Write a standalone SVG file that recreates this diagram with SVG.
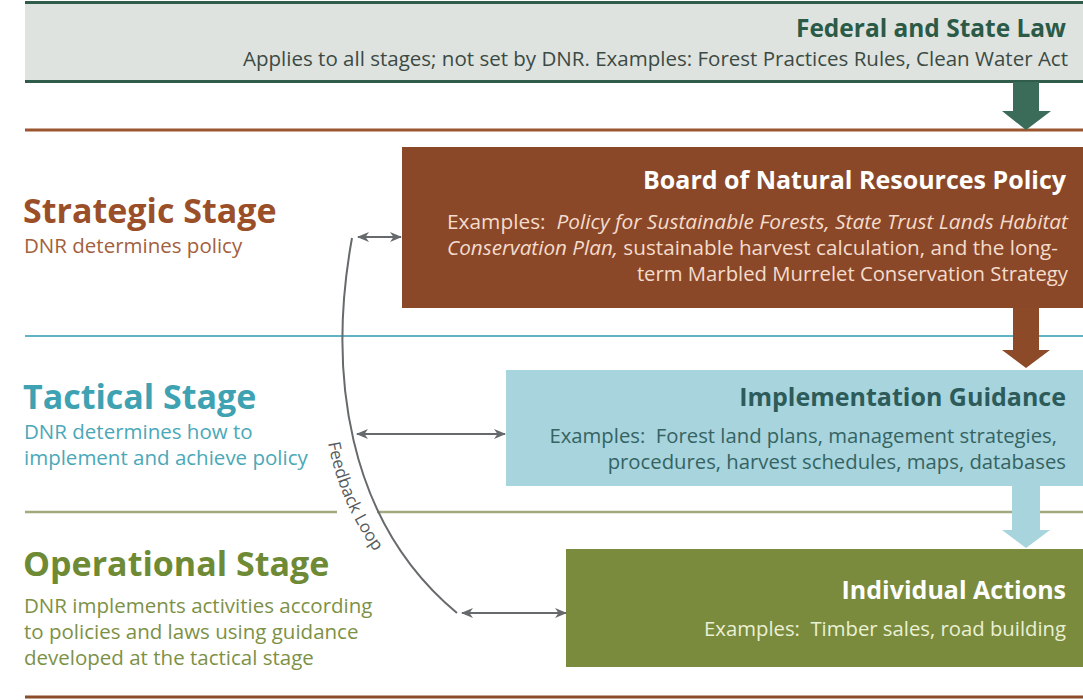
<svg xmlns="http://www.w3.org/2000/svg" width="1083" height="700" viewBox="0 0 1083 700">
<style>
  text { font-family: "Open Sans", "Noto Sans", "DejaVu Sans", sans-serif; white-space: pre; }
  .title { font-weight: bold; font-size: 25px; text-anchor: end; }
  .body { font-size: 20.3px; text-anchor: end; }
  .stage { font-weight: bold; font-size: 34px; }
  .sdesc { font-size: 20.5px; }
  .conn { fill: none; stroke: #666a6c; stroke-width: 2; }
</style>
<defs>
  <marker id="ah" viewBox="0 0 12 10" refX="11" refY="5" markerWidth="12" markerHeight="10" markerUnits="userSpaceOnUse" orient="auto-start-reverse">
    <path d="M0,0 L12,5 L0,10 L3.5,5 z" fill="#666a6c"/>
  </marker>
</defs>
<rect width="1083" height="700" fill="#ffffff"/>

<g id="bands">
  <line x1="25" y1="130" x2="1083" y2="130" stroke="#9b5630" stroke-width="3"/>
  <line x1="25" y1="336" x2="1083" y2="336" stroke="#5fb3c2" stroke-width="2"/>
  <line x1="25" y1="512" x2="337" y2="512" stroke="#a3a97f" stroke-width="2.5"/>
  <line x1="377" y1="512" x2="1083" y2="512" stroke="#a3a97f" stroke-width="2.5"/>
  <line x1="25" y1="697" x2="1083" y2="697" stroke="#8a4d2c" stroke-width="3"/>
</g>

<g id="federal">
  <rect x="25" y="2" width="1058" height="80" fill="#dee3e0"/>
  <line x1="25" y1="2.5" x2="1083" y2="2.5" stroke="#2f5c4b" stroke-width="3"/>
  <line x1="25" y1="81.5" x2="1083" y2="81.5" stroke="#2f5c4b" stroke-width="3"/>
  <text x="1066" y="37" class="title" fill="#2b5a47" font-size="24" textLength="270" lengthAdjust="spacingAndGlyphs">Federal and State Law</text>
  <text x="1068" y="66" class="body" fill="#3c4a43" font-size="19.5" textLength="825" lengthAdjust="spacingAndGlyphs">Applies to all stages; not set by DNR. Examples: Forest Practices Rules, Clean Water Act</text>
</g>

<g id="board">
  <rect x="402" y="147" width="681" height="161" fill="#8b4828"/>
  <text x="1066" y="189" class="title" fill="#ffffff">Board of Natural Resources Policy</text>
  <text x="1068" y="229" class="body" fill="#f4dccd" textLength="621" lengthAdjust="spacingAndGlyphs">Examples:  <tspan font-style="italic">Policy for Sustainable Forests, State Trust Lands Habitat</tspan></text>
  <text x="1058" y="255" class="body" fill="#f4dccd" textLength="611" lengthAdjust="spacingAndGlyphs"><tspan font-style="italic">Conservation Plan,</tspan> sustainable harvest calculation, and the long-</text>
  <text x="1068" y="281" class="body" fill="#f4dccd">term Marbled Murrelet Conservation Strategy</text>
</g>

<g id="implementation">
  <rect x="506" y="370" width="577" height="116" fill="#a7d4dd"/>
  <text x="1066" y="406" class="title" fill="#2d5b5a">Implementation Guidance</text>
  <text x="1057" y="443" class="body" fill="#356362">Examples:  Forest land plans, management strategies,</text>
  <text x="1066" y="469" class="body" fill="#356362">procedures, harvest schedules, maps, databases</text>
</g>

<g id="individual">
  <rect x="566" y="549" width="517" height="118" fill="#7a8b3d"/>
  <text x="1066" y="599" class="title" fill="#ffffff">Individual Actions</text>
  <text x="1066" y="636" class="body" fill="#eaf0d4">Examples:  Timber sales, road building</text>
</g>

<g id="strategic-label">
  <text x="23" y="223" class="stage" fill="#9b4f29">Strategic Stage</text>
  <text x="24" y="253" class="sdesc" fill="#a2603d">DNR determines policy</text>
</g>
<g id="tactical-label">
  <text x="23" y="409" class="stage" fill="#3ea2b2">Tactical Stage</text>
  <text x="24" y="439" class="sdesc" fill="#4aa8b8">DNR determines how to</text>
  <text x="24" y="465" class="sdesc" fill="#4aa8b8">implement and achieve policy</text>
</g>
<g id="operational-label">
  <text x="23" y="576" class="stage" fill="#6f8a35">Operational Stage</text>
  <text x="24" y="613" class="sdesc" fill="#7d9146">DNR implements activities according</text>
  <text x="24" y="639" class="sdesc" fill="#7d9146">to policies and laws using guidance</text>
  <text x="24" y="665" class="sdesc" fill="#7d9146">developed at the tactical stage</text>
</g>

<g id="connectors">
  <polygon points="1013,82 1039,82 1039,111 1051,111 1026,130 1002,111 1013,111" fill="#3b6b59"/>
  <polygon points="1013,308 1039,308 1039,350 1050,350 1026,368 1002,350 1013,350" fill="#8d4a29"/>
  <polygon points="1012,486 1040,486 1040,530 1050,530 1026,548 1002,530 1012,530" fill="#a7d4dd"/>
  <path class="conn" d="M352,238 C328,370 345,520 457,613"/>
  <line class="conn" x1="358" y1="237" x2="401" y2="237" marker-start="url(#ah)" marker-end="url(#ah)"/>
  <line class="conn" x1="357" y1="434" x2="505" y2="434" marker-start="url(#ah)" marker-end="url(#ah)"/>
  <line class="conn" x1="462" y1="613" x2="566" y2="613" marker-start="url(#ah)" marker-end="url(#ah)"/>
  <path id="fbpath" d="M328,443 C336,485 353,525 386,567" fill="none"/>
  <text font-size="17" fill="#555a5c"><textPath href="#fbpath">Feedback Loop</textPath></text>
</g>
</svg>
